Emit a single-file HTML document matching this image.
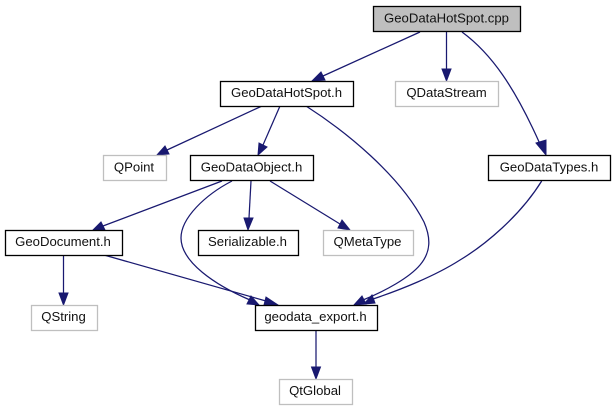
<!DOCTYPE html>
<html><head><meta charset="utf-8">
<style>
html,body{margin:0;padding:0;background:#fff;width:615px;height:411px;overflow:hidden}
svg{display:block}
text{font-family:"Liberation Sans",sans-serif;font-size:13.15px;fill:#111;text-anchor:middle}
.b{fill:#fff;stroke:#000;stroke-width:1.3}
.g{fill:#fff;stroke:#bfbfbf;stroke-width:1.3}
.e{fill:none;stroke:#191970;stroke-width:1.25}
.a{fill:#191970;stroke:#191970;stroke-width:1}
</style></head><body>
<svg width="615" height="411" viewBox="0 0 615 411" xmlns="http://www.w3.org/2000/svg">
<path class="e" d="M420,32L323,76"/><polygon class="a" points="312,81 321,72 325,80"/>
<path class="e" d="M446.500,32V70"/><polygon class="a" points="446.500,81 442,69 451,69"/>
<path class="e" d="M462,32C492,54 515,88 540,144"/><polygon class="a" points="546,155 536,143 546,140"/>
<path class="e" d="M262,106L167,150"/><polygon class="a" points="157,155 165,146 169,154"/>
<path class="e" d="M280,106L263,145"/><polygon class="a" points="258,155 259,143 267,147"/>
<path class="e" d="M306,106C345,131 400,175 424,222C431,238 431,252 420,265C409,278 385,291 363,300"/><polygon class="a" points="354,305 362,296 366,304"/>
<path class="e" d="M541.700,181C520,216 485,245 460,260C435,276 400,290 373,299"/><polygon class="a" points="364,304 372,295 375,303"/>
<path class="e" d="M222,181L103,226"/><polygon class="a" points="93,230 101,222 105,230"/>
<path class="e" d="M232,181C205,195 181,218 181,238C181,262 215,285 250,300"/><polygon class="a" points="259,305 247,304 251,296"/>
<path class="e" d="M104,255L266,301"/><polygon class="a" points="278,305 264,305 266,297"/>
<path class="e" d="M251,181L249,218"/><polygon class="a" points="248,230 244,218 253,218"/>
<path class="e" d="M270,181L340,224"/><polygon class="a" points="350,230 338,228 342,220"/>
<path class="e" d="M63.500,255V294"/><polygon class="a" points="63.500,305 59,293 68,293"/>
<path class="e" d="M316,330V368"/><polygon class="a" points="316,379 311.500,367 320.500,367"/>

<rect x="373.500" y="6.500" width="147" height="25" fill="#bfbfbf" stroke="#000" stroke-width="1.3"/>
<text x="446.500" y="22.500">GeoDataHotSpot.cpp</text>
<rect class="b" x="220.500" y="81.500" width="133" height="25"/>
<text x="286.500" y="97">GeoDataHotSpot.h</text>
<rect class="g" x="395.500" y="81.500" width="103" height="25"/>
<text x="446.500" y="97">QDataStream</text>
<rect class="b" x="488.500" y="155.500" width="122" height="25"/>
<text x="549" y="171.500">GeoDataTypes.h</text>
<rect class="g" x="103.500" y="155.500" width="63" height="25"/>
<text x="134" y="171.500">QPoint</text>
<rect class="b" x="190.500" y="155.500" width="123" height="25"/>
<text x="251.500" y="171.500">GeoDataObject.h</text>
<rect class="b" x="5.500" y="230.500" width="117" height="25"/>
<text x="63" y="246">GeoDocument.h</text>
<rect class="b" x="198.500" y="230.500" width="100" height="25"/>
<text x="247.500" y="246">Serializable.h</text>
<rect class="g" x="323.500" y="230.500" width="90" height="25"/>
<text x="367.500" y="246">QMetaType</text>
<rect class="g" x="31.500" y="305.500" width="66" height="25"/>
<text x="63.500" y="321">QString</text>
<rect class="b" x="255.500" y="305.500" width="122" height="25"/>
<text x="315.500" y="321">geodata_export.h</text>
<rect class="g" x="279.500" y="379.500" width="73" height="25"/>
<text x="315" y="395">QtGlobal</text>
</svg>
</body></html>
